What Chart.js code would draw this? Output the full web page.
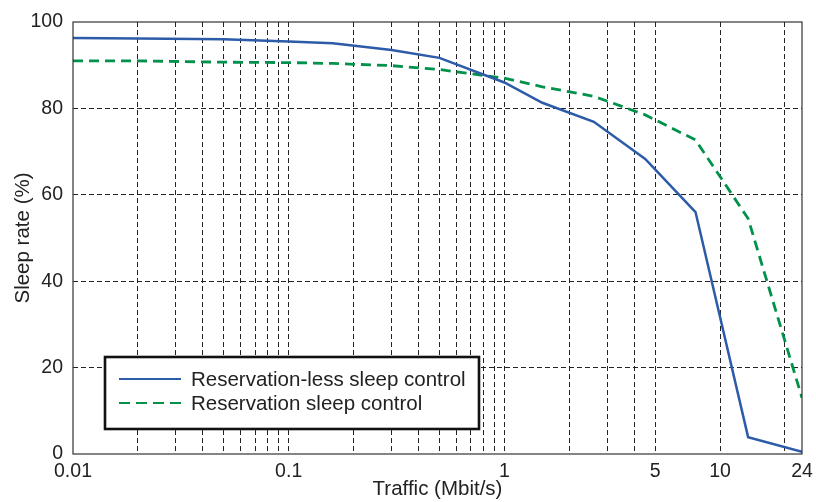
<!DOCTYPE html>
<html>
<head>
<meta charset="utf-8">
<script src="https://cdn.jsdelivr.net/npm/chart.js@4.4.1/dist/chart.umd.min.js"></script>
<style>
  body { margin: 0; background: #fff; }
  #wrap { position: relative; width: 816px; height: 502px; }
</style>
</head>
<body>
<div id="wrap"><canvas id="sleep" width="816" height="502"></canvas></div>
<script>
// traffic values (Mbit/s)
const traffic = [0.01, 0.02, 0.05, 0.1, 0.16, 0.3, 0.5, 1, 1.5, 2.6, 4.5, 7.7, 13.5, 24];
const reservationLess = [96.3, 96.2, 96.0, 95.5, 95.1, 93.5, 91.7, 86.0, 81.3, 76.9, 68.3, 56.0, 3.9, 0.5];
const reservation = [91.0, 91.0, 90.7, 90.6, 90.4, 89.9, 89.0, 87.0, 85.0, 82.8, 78.5, 72.7, 54.5, 13.0];

const seriesNames = ["Reservation-less sleep control", "Reservation sleep control"];
const xGridValues = [0.01, 0.02, 0.03, 0.04, 0.05, 0.06, 0.07, 0.08, 0.09,
  0.1, 0.2, 0.3, 0.4, 0.5, 0.6, 0.7, 0.8, 0.9,
  1, 2, 3, 4, 5, 10, 20, 24];
const xTickLabels = ["0.01", "0.1", "1", "5", "10", "24"];
const yTicks = [0, 20, 40, 60, 80, 100];

const blue = "#2c5ba8";
const green = "#00924a";
const font = "'Liberation Sans', Arial, sans-serif";

const toPoints = ys => ys.map((y, i) => ({ x: traffic[i], y: y }));

// frame + legend box
const framePlugin = {
  id: "frameAndLegend",
  afterDraw(chart) {
    const { ctx, chartArea: a } = chart;
    ctx.save();
    ctx.strokeStyle = "#333";
    ctx.lineWidth = 1.2;
    ctx.strokeRect(a.left, a.top, a.right - a.left, a.bottom - a.top);

    // legend
    const lx = 105, ly = 357, lw = 374, lh = 72;
    ctx.fillStyle = "#fff";
    ctx.fillRect(lx, ly, lw, lh);
    ctx.strokeStyle = "#111";
    ctx.lineWidth = 2.6;
    ctx.strokeRect(lx, ly, lw, lh);

    const rows = [
      { name: seriesNames[0], color: blue, dash: [] },
      { name: seriesNames[1], color: green, dash: [11, 6] }
    ];
    rows.forEach((r, i) => {
      const y = 379 + i * 24;
      ctx.beginPath();
      ctx.setLineDash(r.dash);
      ctx.strokeStyle = r.color;
      ctx.lineWidth = 2;
      ctx.moveTo(119, y);
      ctx.lineTo(181, y);
      ctx.stroke();
      ctx.setLineDash([]);
      ctx.fillStyle = "#222";
      ctx.font = "20.5px " + font;
      ctx.textBaseline = "middle";
      ctx.textAlign = "left";
      ctx.fillText(r.name, 191, y + 1);
    });
    ctx.restore();
  }
};

new Chart(document.getElementById("sleep"), {
  type: "line",
  data: {
    datasets: [
      {
        label: seriesNames[0],
        data: toPoints(reservationLess),
        borderColor: blue,
        borderWidth: 2.5,
        pointRadius: 0,
        tension: 0
      },
      {
        label: seriesNames[1],
        data: toPoints(reservation),
        borderColor: green,
        borderWidth: 2.8,
        borderDash: [10, 6],
        pointRadius: 0,
        tension: 0
      }
    ]
  },
  options: {
    responsive: false,
    animation: false,
    layout: { padding: { left: 0, top: 22, right: 14, bottom: 0 } },
    plugins: {
      legend: { display: false },
      tooltip: { enabled: false }
    },
    scales: {
      x: {
        type: "logarithmic",
        min: 0.01,
        max: 24,
        afterBuildTicks: scale => {
          scale.ticks = xGridValues.map(v => ({ value: v }));
        },
        afterFit: scale => {
          scale.height = 48;
          scale.paddingLeft = 0;
          scale.paddingRight = 0;
        },
        ticks: {
          autoSkip: false,
          maxRotation: 0,
          padding: 6,
          color: "#222",
          font: { family: font, size: 19.5 },
          callback: v => {
            const s = String(Number(v.toPrecision(3)));
            return xTickLabels.includes(s) ? s : "";
          }
        },
        grid: {
          drawTicks: false,
          lineWidth: 1,
          color: ctx => (ctx.tick && (ctx.tick.value === 0.01 || ctx.tick.value === 24)) ? "rgba(0,0,0,0)" : "#222"
        },
        border: { display: false, dash: [5, 3] },
        title: {
          display: true,
          text: "Traffic (Mbit/s)",
          color: "#222",
          font: { family: font, size: 20.5 },
          padding: { top: 3, bottom: 0 }
        }
      },
      y: {
        min: 0,
        max: 100,
        afterBuildTicks: scale => {
          scale.ticks = yTicks.map(v => ({ value: v }));
        },
        afterFit: scale => { scale.width = 73; },
        ticks: {
          padding: 10,
          color: "#222",
          font: { family: font, size: 19.5 }
        },
        grid: {
          drawTicks: false,
          lineWidth: 1,
          color: ctx => (ctx.tick && (ctx.tick.value === 0 || ctx.tick.value === 100)) ? "rgba(0,0,0,0)" : "#222"
        },
        border: { display: false, dash: [5, 3] },
        title: {
          display: true,
          text: "Sleep rate (%)",
          color: "#222",
          font: { family: font, size: 20.5 },
          padding: { top: 11, bottom: 0 }
        }
      }
    }
  },
  plugins: [framePlugin]
});
</script>
</body>
</html>
